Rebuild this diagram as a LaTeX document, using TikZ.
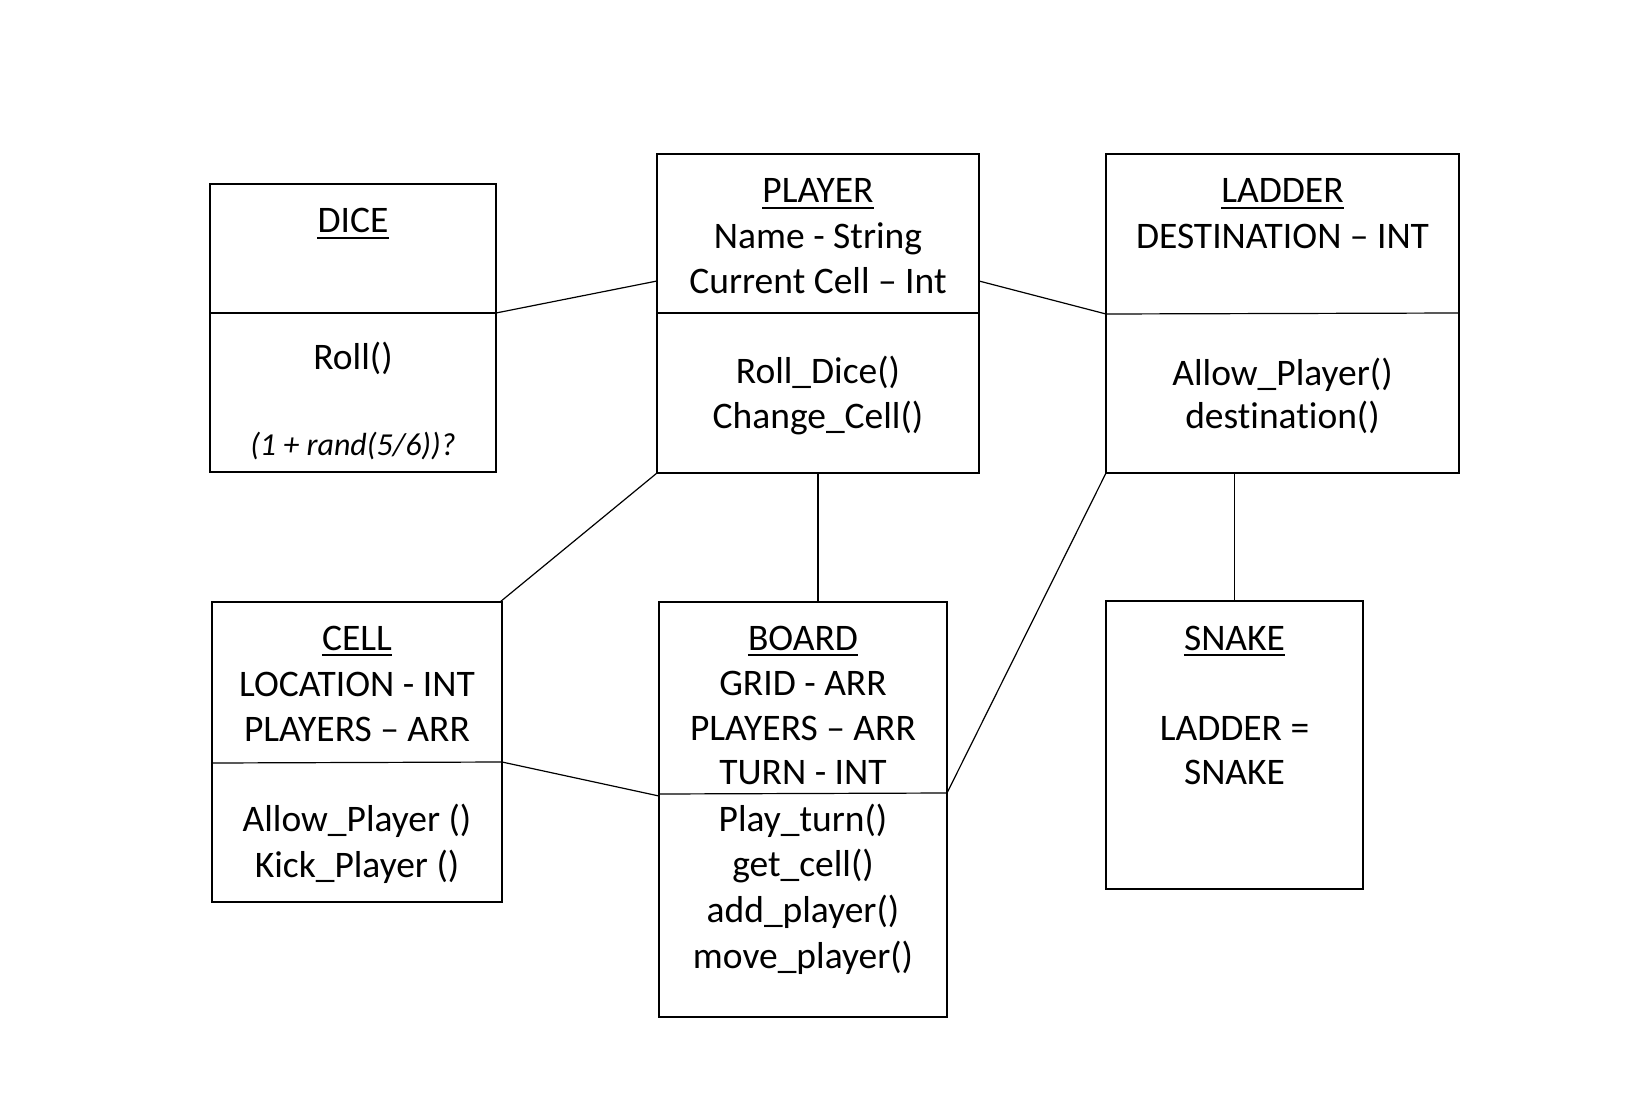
\documentclass[tikz,border=0pt]{standalone}
\usepackage{fontspec}
\setmainfont[Ligatures=NoCommon]{Carlito}
\begin{document}
\begin{tikzpicture}[x=1pt,y=-1pt,
  box/.style={draw, line width=2.2pt, rectangle, inner sep=0, outer sep=0},
  div/.style={line width=1.2pt},
  conn/.style={line width=1.2pt},
  txt/.style={anchor=base, inner sep=0, font=\fontsize{37.5}{45}\selectfont},
  small/.style={anchor=base, inner sep=0, font=\fontsize{32}{38}\selectfont\itshape},
  ul/.style={line width=1.8pt}]
\useasboundingbox (0,0) rectangle (1632,1094);
% boxes
\node[box, minimum width=286, minimum height=288] (dice) at (353,328) {};
\node[box, minimum width=322, minimum height=319] (player) at (818,313.5) {};
\node[box, minimum width=353, minimum height=319] (ladder) at (1282.5,313.5) {};
\node[box, minimum width=290, minimum height=300] (cell) at (357,752) {};
\node[box, minimum width=288, minimum height=415] (board) at (803,809.5) {};
\node[box, minimum width=257, minimum height=288] (snake) at (1234.5,745) {};
% dividers
\draw[div] (dice.west |- 0,313) -- (dice.east |- 0,313);
\draw[div] (player.west |- 0,313) -- (player.east |- 0,313);
\draw[div] (ladder.west |- 0,314) -- (ladder.east |- 0,313);
\draw[div] (cell.west |- 0,763) -- (cell.east |- 0,762);
\draw[div] (board.west |- 0,794) -- (board.east |- 0,793);
% connectors
\draw[conn] (dice.east |- 0,313) -- (player.west |- 0,281);
\draw[conn] (player.east |- 0,281) -- (ladder.west |- 0,314);
\draw[conn] (player.south west) -- ([xshift=-2pt]cell.north east);
\draw[conn] (player.south) -- (player.south |- board.north);
\draw[conn] (ladder.south west) -- (board.east |- 0,793);
\draw[conn] (snake.north |- ladder.south) -- (snake.north);
\draw[conn] (cell.east |- 0,762) -- (board.west |- 0,796);
% DICE
\node[txt] (diceT) at (353,233) {DICE};
\draw[ul] ([yshift=-5pt]diceT.base west) -- ([yshift=-5pt]diceT.base east);
\node[txt] (diceM) at (353,369) {Roll()};
\node[small] (diceN) at (353,455) {(1 + rand(5/6))?};
% PLAYER
\node[txt] (playerT) at (818,203) {PLAYER};
\draw[ul] ([yshift=-5pt]playerT.base west) -- ([yshift=-5pt]playerT.base east);
\node[txt] (playerA1) at (818,248) {Name - String};
\node[txt] (playerA2) at (818,293) {Current Cell – Int};
\node[txt] (playerM1) at (818,383) {Roll\_Dice()};
\node[txt] (playerM2) at (818,428) {Change\_Cell()};
% LADDER
\node[txt] (ladderT) at (1282.5,203) {LADDER};
\draw[ul] ([yshift=-5pt]ladderT.base west) -- ([yshift=-5pt]ladderT.base east);
\node[txt] (ladderA1) at (1282.5,248) {DESTINATION – INT};
\node[txt] (ladderM1) at (1282.5,385) {Allow\_Player()};
\node[txt] (ladderM2) at (1282.5,428) {destination()};
% CELL
\node[txt] (cellT) at (357,650) {CELL};
\draw[ul] ([yshift=-5pt]cellT.base west) -- ([yshift=-5pt]cellT.base east);
\node[txt] (cellA1) at (357,696) {LOCATION - INT};
\node[txt] (cellA2) at (357,741) {PLAYERS – ARR};
\node[txt] (cellM1) at (357,831) {Allow\_Player ()};
\node[txt] (cellM2) at (357,877) {Kick\_Player ()};
% BOARD
\node[txt] (boardT) at (803,650) {BOARD};
\draw[ul] ([yshift=-5pt]boardT.base west) -- ([yshift=-5pt]boardT.base east);
\node[txt] (boardA1) at (803,695) {GRID - ARR};
\node[txt] (boardA2) at (803,740) {PLAYERS – ARR};
\node[txt] (boardA3) at (803,784) {TURN - INT};
\node[txt] (boardM1) at (803,831) {Play\_turn()};
\node[txt] (boardM2) at (803,876) {get\_cell()};
\node[txt] (boardM3) at (803,922) {add\_player()};
\node[txt] (boardM4) at (803,968) {move\_player()};
% SNAKE
\node[txt] (snakeT) at (1234.5,650) {SNAKE};
\draw[ul] ([yshift=-5pt]snakeT.base west) -- ([yshift=-5pt]snakeT.base east);
\node[txt] (snakeA1) at (1234.5,740) {LADDER =};
\node[txt] (snakeA2) at (1234.5,784) {SNAKE};
\end{tikzpicture}
\end{document}
